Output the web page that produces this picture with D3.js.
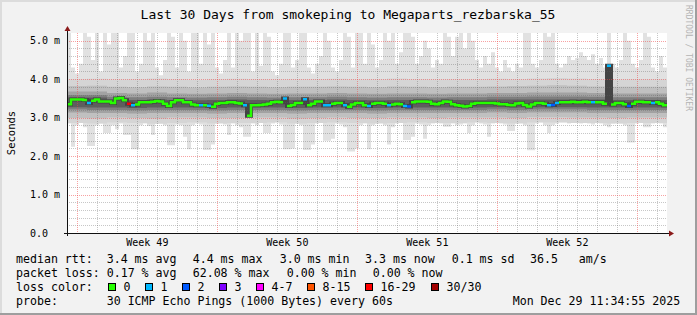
<!DOCTYPE html>
<html>
<head>
<meta charset="utf-8">
<script src="https://cdn.jsdelivr.net/npm/d3@7"></script>
<style>
  body { margin: 0; background: #f2f2f2; }
  text { font-family: "DejaVu Sans Mono", monospace; fill: #000; white-space: pre; }
</style>
</head>
<body>
<div id="chart"></div>
<script>
// ---- data ----
const t0 = new Date(Date.UTC(2025, 10, 29, 11, 34, 55));
const t1 = new Date(Date.UTC(2025, 11, 29, 11, 34, 55));
const binMinutes = 288; // 150 bins of 4.8 h

// median rtt per bin (ms)
const medianRtt = [
  3.35, 3.47, 3.47, 3.47, 3.46, 3.38, 3.44, 3.47, 3.42, 3.42,
  3.42, 3.38, 3.50, 3.51, 3.45, 3.36, 3.32, 3.34, 3.40, 3.40,
  3.40, 3.41, 3.43, 3.42, 3.36, 3.30, 3.40, 3.45, 3.45, 3.40,
  3.40, 3.34, 3.32, 3.32, 3.32, 3.31, 3.28, 3.36, 3.38, 3.38,
  3.40, 3.40, 3.38, 3.37, 3.32, 3.05, 3.32, 3.32, 3.33, 3.34,
  3.36, 3.40, 3.41, 3.40, 3.50, 3.30, 3.33, 3.38, 3.38, 3.48,
  3.32, 3.36, 3.42, 3.42, 3.32, 3.32, 3.36, 3.38, 3.38, 3.32,
  3.28, 3.34, 3.38, 3.38, 3.32, 3.30, 3.36, 3.38, 3.38, 3.36,
  3.32, 3.34, 3.36, 3.35, 3.30, 3.29, 3.40, 3.42, 3.42, 3.42,
  3.41, 3.36, 3.35, 3.38, 3.42, 3.41, 3.35, 3.32, 3.31, 3.29,
  3.30, 3.36, 3.38, 3.38, 3.38, 3.38, 3.38, 3.37, 3.35, 3.35,
  3.33, 3.32, 3.37, 3.38, 3.33, 3.29, 3.34, 3.38, 3.38, 3.36,
  3.32, 3.33, 3.38, 3.40, 3.40, 3.40, 3.41, 3.40, 3.40, 3.41,
  3.40, 3.40, 3.40, 3.40, 3.36, 4.35, 3.34, 3.38, 3.38, 3.35,
  3.30, 3.36, 3.41, 3.41, 3.40, 3.40, 3.38, 3.40, 3.36, 3.32
];

// lost pings (of 30) per bin
const lossCount = [
  0, 0, 0, 0, 0, 1, 0, 0, 0, 0,
  0, 0, 0, 0, 0, 18, 1, 0, 0, 0,
  0, 0, 0, 0, 0, 0, 0, 0, 0, 0,
  0, 0, 0, 1, 0, 1, 0, 0, 0, 0,
  0, 0, 0, 0, 1, 0, 0, 0, 0, 0,
  0, 0, 0, 0, 1, 0, 0, 0, 0, 1,
  0, 0, 0, 0, 1, 1, 0, 0, 0, 1,
  0, 0, 0, 0, 0, 1, 0, 0, 0, 0,
  1, 0, 0, 0, 1, 2, 0, 0, 0, 0,
  0, 0, 0, 0, 0, 0, 0, 0, 0, 0,
  0, 0, 0, 0, 0, 0, 0, 0, 0, 0,
  0, 0, 0, 0, 0, 0, 0, 0, 0, 0,
  1, 2, 1, 0, 0, 0, 0, 0, 0, 0,
  0, 1, 0, 0, 0, 1, 0, 0, 0, 0,
  2, 0, 0, 0, 0, 0, 1, 0, 0, 0
];

// slowest ping per bin (ms)
const smokeMax = [
  5.4, 4.3, 4.15, 4.4, 5.4, 5.1, 4.5, 5.4, 4.2, 5.4,
  4.9, 5.4, 5.4, 4.3, 4.6, 5.4, 5.2, 4.2, 4.4, 5.4,
  5.0, 5.4, 4.3, 4.1, 4.5, 5.4, 5.1, 4.3, 5.4, 5.0,
  4.2, 5.4, 5.2, 4.4, 5.4, 4.9, 5.4, 4.3, 4.15, 4.5,
  5.4, 4.3, 5.4, 5.0, 5.4, 5.4, 4.2, 5.4, 4.35, 5.4,
  5.1, 4.2, 4.1, 4.4, 5.4, 5.2, 4.3, 4.5, 5.4, 5.4,
  4.3, 4.15, 4.4, 4.6, 5.4, 5.0, 4.3, 4.2, 4.5, 5.4,
  5.1, 4.3, 5.4, 5.2, 4.4, 5.4, 4.9, 4.3, 4.5, 5.4,
  5.0, 5.4, 4.4, 4.7, 5.4, 5.4, 5.1, 4.4, 4.6, 5.0,
  4.8, 4.3, 4.5, 4.4, 5.4, 5.1, 4.6, 5.1, 5.4, 4.8,
  5.4, 5.0, 4.5, 4.3, 4.6, 4.4, 4.7, 4.3, 4.2, 4.5,
  4.3, 4.2, 4.4, 4.3, 5.4, 5.2, 4.4, 4.3, 4.5, 5.4,
  5.1, 5.4, 4.4, 4.3, 4.4, 4.6, 4.5, 4.55, 4.7, 4.6,
  4.5, 4.65, 4.4, 4.55, 4.3, 5.4, 4.4, 4.3, 4.5, 5.4,
  5.0, 4.4, 4.3, 4.5, 5.4, 5.1, 4.3, 4.2, 4.6, 4.3
];

// fastest ping per bin (ms)
const smokeMin = [
  2.85, 2.24, 2.80, 2.88, 2.75, 2.26, 2.26, 2.80, 2.85, 2.60,
  2.60, 2.80, 2.70, 2.85, 2.55, 2.55, 2.18, 2.18, 2.80, 2.85,
  2.78, 2.55, 2.85, 2.88, 2.80, 2.28, 2.28, 2.82, 2.80, 2.50,
  2.18, 2.80, 2.85, 2.82, 2.16, 2.16, 2.30, 2.85, 2.88, 2.82,
  2.55, 2.85, 2.80, 2.75, 2.50, 2.50, 2.85, 2.80, 2.88, 2.60,
  2.60, 2.85, 2.88, 2.82, 2.18, 2.18, 2.20, 2.85, 2.80, 2.16,
  2.16, 2.30, 2.85, 2.88, 2.40, 2.40, 2.45, 2.85, 2.82, 2.75,
  2.12, 2.12, 2.20, 2.80, 2.85, 2.18, 2.80, 2.85, 2.88, 2.80,
  2.30, 2.75, 2.85, 2.88, 2.42, 2.42, 2.50, 2.85, 2.82, 2.45,
  2.80, 2.85, 2.88, 2.85, 2.76, 2.76, 2.85, 2.80, 2.82, 2.85,
  2.60, 2.80, 2.88, 2.85, 2.82, 2.50, 2.85, 2.88, 2.85, 2.82,
  2.65, 2.65, 2.85, 2.88, 2.80, 2.15, 2.15, 2.85, 2.88, 2.80,
  2.60, 2.80, 2.85, 2.88, 2.88, 2.85, 2.88, 2.86, 2.85, 2.88,
  2.85, 2.82, 2.88, 2.85, 2.80, 2.75, 2.85, 2.88, 2.85, 2.80,
  2.35, 2.35, 2.85, 2.88, 2.75, 2.75, 2.85, 2.88, 2.85, 2.75
];

// inner smoke bands per day (ms), outer to inner
const band1Hi = [4.00, 4.01, 3.99, 4.00, 4.02, 4.00, 3.98, 4.00, 4.01, 4.00, 3.99, 4.00, 4.00, 4.01, 3.99, 4.00, 4.02, 4.00, 3.99, 4.00, 4.00, 4.01, 4.00, 4.02, 4.03, 4.02, 4.00, 3.99, 4.00, 4.00];
const band1Lo = [2.86, 2.85, 2.87, 2.86, 2.84, 2.86, 2.87, 2.85, 2.86, 2.86, 2.87, 2.85, 2.86, 2.87, 2.86, 2.85, 2.86, 2.87, 2.86, 2.86, 2.87, 2.86, 2.85, 2.87, 2.87, 2.86, 2.86, 2.85, 2.86, 2.86];
const band2Hi = [3.82, 3.83, 3.80, 3.79, 3.81, 3.80, 3.78, 3.80, 3.81, 3.80, 3.79, 3.80, 3.80, 3.81, 3.80, 3.79, 3.81, 3.80, 3.79, 3.80, 3.80, 3.81, 3.82, 3.83, 3.84, 3.83, 3.81, 3.80, 3.80, 3.80];
const band2Lo = [2.99, 2.98, 3.00, 2.99, 2.98, 3.00, 3.00, 2.99, 2.99, 3.00, 3.00, 2.98, 2.99, 3.00, 2.99, 2.99, 3.00, 3.00, 2.99, 3.00, 3.00, 3.00, 2.99, 3.01, 3.01, 3.00, 3.00, 2.99, 3.00, 3.00];
const band3Hi = [3.68, 3.68, 3.64, 3.63, 3.65, 3.63, 3.62, 3.63, 3.64, 3.63, 3.62, 3.63, 3.63, 3.64, 3.63, 3.62, 3.63, 3.63, 3.62, 3.63, 3.63, 3.64, 3.64, 3.65, 3.65, 3.65, 3.64, 3.63, 3.63, 3.63];
const band3Lo = [3.13, 3.12, 3.12, 3.11, 3.12, 3.12, 3.12, 3.11, 3.12, 3.12, 3.12, 3.11, 3.12, 3.12, 3.12, 3.11, 3.12, 3.12, 3.12, 3.12, 3.12, 3.13, 3.12, 3.13, 3.13, 3.13, 3.12, 3.12, 3.12, 3.12];
const band4Hi = [3.58, 3.58, 3.54, 3.53, 3.54, 3.53, 3.52, 3.53, 3.54, 3.53, 3.52, 3.53, 3.53, 3.54, 3.53, 3.52, 3.53, 3.53, 3.52, 3.53, 3.53, 3.54, 3.54, 3.55, 3.55, 3.55, 3.54, 3.53, 3.53, 3.53];
const band4Lo = [3.21, 3.20, 3.20, 3.19, 3.20, 3.20, 3.20, 3.19, 3.20, 3.20, 3.20, 3.19, 3.20, 3.20, 3.20, 3.19, 3.20, 3.20, 3.20, 3.20, 3.20, 3.21, 3.20, 3.21, 3.21, 3.21, 3.20, 3.20, 3.20, 3.20];
const band5Hi = [3.52, 3.52, 3.47, 3.46, 3.47, 3.46, 3.45, 3.46, 3.47, 3.46, 3.45, 3.46, 3.46, 3.47, 3.46, 3.45, 3.46, 3.46, 3.45, 3.46, 3.46, 3.47, 3.47, 3.47, 3.47, 3.47, 3.47, 3.46, 3.46, 3.46];
const band5Lo = [3.27, 3.26, 3.26, 3.25, 3.26, 3.26, 3.26, 3.25, 3.26, 3.26, 3.26, 3.25, 3.26, 3.26, 3.26, 3.25, 3.26, 3.26, 3.26, 3.26, 3.26, 3.27, 3.26, 3.27, 3.27, 3.27, 3.26, 3.26, 3.26, 3.26];

// axis labels
const yTicks = [0, 1, 2, 3, 4, 5];
const yTickLabels = ["0.0", "1.0 m", "2.0 m", "3.0 m", "4.0 m", "5.0 m"];
const weekLabels = ["Week 49", "Week 50", "Week 51", "Week 52"];

// legend texts
const rowLabels = ["median rtt:", "packet loss:", "loss color:", "probe:"];
const rttStats = ["3.4 ms avg", "4.4 ms max", "3.0 ms min", "3.3 ms now", "0.1 ms sd", "36.5   am/s"];
const lossStats = ["0.17 % avg", "62.08 % max", "0.00 % min", "0.00 % now"];
const lossNames = ["0", "1", "2", "3", "4-7", "8-15", "16-29", "30/30"];
const lossFrom = [0, 1, 2, 3, 4, 8, 16, 30];
const probeText = "30 ICMP Echo Pings (1000 Bytes) every 60s";
const stampText = "Mon Dec 29 11:34:55 2025";

// ---- styles / layout ----
const lossColors = ["#26ff00", "#00b8ff", "#0059ff", "#7e00ff", "#ff00ff", "#ff5500", "#ff0000", "#a10000"];
const bandColors = ["#e1e1e1", "#d5d5d5", "#c0c0c0", "#a2a2a2", "#7e7e7e", "#5e5e5e"];

const width = 697, height = 315;
const pL = 67, pR = 667, pT = 33, pB = 233;

const svg = d3.select("#chart").append("svg")
    .attr("width", width)
    .attr("height", height);

// frame
svg.append("rect").attr("width", width).attr("height", height).attr("fill", "#f2f2f2");
svg.append("path").attr("d", `M1,${height} V1 H${width}`).attr("stroke", "#dcdcdc").attr("stroke-width", 2).attr("fill", "none");
svg.append("path").attr("d", `M0,${height - 1} H${width - 1} V0`).attr("stroke", "#9e9e9e").attr("stroke-width", 2).attr("fill", "none");

svg.append("rect")
    .attr("x", pL).attr("y", pT)
    .attr("width", pR - pL).attr("height", pB - pT)
    .attr("fill", "#fff");

const x = d3.scaleUtc().domain([t0, t1]).range([pL, pR]);
const y = d3.scaleLinear().domain([0, 5.2]).range([pB, pT]);

const binTimes = d3.range(medianRtt.length + 1).map(i => d3.utcMinute.offset(t0, i * binMinutes));
const dayTimes = d3.range(band1Hi.length + 1).map(i => d3.utcDay.offset(t0, i));

svg.append("clipPath").attr("id", "plot")
  .append("rect").attr("x", pL).attr("y", pT).attr("width", pR - pL).attr("height", pB - pT);

const smoke = svg.append("g").attr("clip-path", "url(#plot)");

const area = d3.area()
    .curve(d3.curveStepAfter)
    .x(d => x(d.t))
    .y0(d => y(d.lo))
    .y1(d => y(d.hi));

function band(lo, hi, times) {
    const pts = lo.map((v, i) => ({ t: times[i], lo: v, hi: hi[i] }));
    pts.push({ t: times[times.length - 1], lo: lo[lo.length - 1], hi: hi[hi.length - 1] });
    return area(pts);
}

const bands = [
    [smokeMin, smokeMax, binTimes],
    [band1Lo, band1Hi, dayTimes],
    [band2Lo, band2Hi, dayTimes],
    [band3Lo, band3Hi, dayTimes],
    [band4Lo, band4Hi, dayTimes],
    [band5Lo, band5Hi, dayTimes]
];
bands.forEach((b, k) => {
    smoke.append("path").attr("d", band(b[0], b[1], b[2])).attr("fill", bandColors[k]);
});

// dark core of the smoke around the median
let halo = "";
medianRtt.forEach((v, i) => {
    const xs = x(binTimes[i]), xe = x(binTimes[i + 1]);
    halo += (i === 0 ? `M${xs},${y(v)}` : `V${y(v)}`) + `H${xe}`;
});
smoke.append("path").attr("d", halo)
    .attr("fill", "none").attr("stroke", "#444").attr("stroke-width", 4);

// grid
const grid = svg.append("g").attr("fill", "none").attr("stroke-dasharray", "1,1").attr("shape-rendering", "crispEdges");
const days = d3.utcDay.range(t0, t1);
const sundays = d3.utcSunday.range(t0, t1);
const minorY = d3.range(1, 26).filter(k => k % 5 !== 0).map(k => k / 5);

grid.selectAll(".hmin").data(minorY).enter().append("line")
    .attr("x1", pL).attr("x2", pR)
    .attr("y1", d => Math.round(y(d)) + 0.5).attr("y2", d => Math.round(y(d)) + 0.5)
    .attr("stroke", "rgba(95,95,95,0.35)");
grid.selectAll(".vmin").data(days.filter(d => d.getUTCDay() !== 0)).enter().append("line")
    .attr("x1", d => Math.round(x(d)) + 0.5).attr("x2", d => Math.round(x(d)) + 0.5)
    .attr("y1", pT).attr("y2", pB)
    .attr("stroke", "rgba(95,95,95,0.35)");
grid.selectAll(".hmaj").data(yTicks.slice(1)).enter().append("line")
    .attr("x1", pL).attr("x2", pR)
    .attr("y1", d => Math.round(y(d)) + 0.5).attr("y2", d => Math.round(y(d)) + 0.5)
    .attr("stroke", "rgba(240,70,70,0.5)");
grid.selectAll(".vmaj").data(sundays).enter().append("line")
    .attr("x1", d => Math.round(x(d)) + 0.5).attr("x2", d => Math.round(x(d)) + 0.5)
    .attr("y1", pT).attr("y2", pB)
    .attr("stroke", "rgba(240,70,70,0.5)");

// median line coloured by loss
const lossClass = n => d3.bisectRight(lossFrom, n) - 1;
const medPaths = lossColors.map(() => "");
medianRtt.forEach((v, i) => {
    const c = lossClass(lossCount[i]);
    const xs = x(binTimes[i]), xe = x(binTimes[i + 1]);
    const same = i > 0 && lossClass(lossCount[i - 1]) === c;
    medPaths[c] += (same ? `V${y(v)}` : `M${xs},${y(v)}`) + `H${xe}`;
});
svg.append("g").attr("clip-path", "url(#plot)")
  .selectAll("path").data(medPaths).enter().append("path")
    .attr("d", d => d || null)
    .attr("fill", "none")
    .attr("stroke", (d, i) => lossColors[i])
    .attr("stroke-width", 2.5);

// axes
svg.append("line").attr("x1", pL - 3).attr("x2", pR + 2).attr("y1", pB + 0.5).attr("y2", pB + 0.5)
    .attr("stroke", "#111");
svg.append("line").attr("x1", pL + 0.5).attr("x2", pL + 0.5).attr("y1", pB + 3).attr("y2", pT - 3)
    .attr("stroke", "#111");
svg.append("path").attr("d", `M${pR + 7},${pB + 0.5} L${pR + 2},${pB - 2.5} L${pR + 2},${pB + 3.5} Z`)
    .attr("fill", "#8b1a1a");
svg.append("path").attr("d", `M${pL + 0.5},${pT - 7} L${pL - 2.5},${pT - 2} L${pL + 3.5},${pT - 2} Z`)
    .attr("fill", "#8b1a1a");

svg.selectAll(".ylab").data(yTicks).enter().append("text")
    .attr("x", 30).attr("y", d => y(d) + 3.5)
    .style("font-size", "10px")
    .text((d, i) => yTickLabels[i]);

const weekMids = sundays.map(s => d3.utcHour.offset(s, 84)).filter(m => m < t1);
svg.selectAll(".xlab").data(weekMids).enter().append("text")
    .attr("x", d => x(d)).attr("y", 246)
    .attr("text-anchor", "middle")
    .style("font-size", "10px")
    .text((d, i) => weekLabels[i]);

svg.append("text")
    .attr("transform", `translate(15,${(pT + pB) / 2}) rotate(-90)`)
    .attr("text-anchor", "middle")
    .style("font-size", "10.5px")
    .text("Seconds");

svg.append("text")
    .attr("x", 348).attr("y", 18.5)
    .attr("text-anchor", "middle")
    .style("font-size", "13px")
    .text("Last 30 Days from smokeping to Megaparts_rezbarska_55");

svg.append("text")
    .attr("transform", "translate(685.5,5) rotate(90)")
    .style("font-size", "8px")
    .style("fill", "#b4b4b4")
    .text("RRDTOOL / TOBI OETIKER");

// legend
const rowY = [263, 277, 291, 305];
const legend = svg.append("g").style("font-size", "11.6px");
rowLabels.forEach((t, i) => legend.append("text").attr("x", 16).attr("y", rowY[i]).text(t));

const rttX = [106.7, 192.7, 279.7, 365, 451.7, 530];
rttStats.forEach((t, i) => legend.append("text").attr("x", rttX[i]).attr("y", rowY[0]).text(t));
const lossX = [106.7, 192.7, 286.7, 372.7];
lossStats.forEach((t, i) => legend.append("text").attr("x", lossX[i]).attr("y", rowY[1]).text(t));

const boxX = [108.5, 145.5, 182.5, 219.5, 256.5, 307.5, 365.5, 431.5];
lossNames.forEach((t, i) => {
    legend.append("rect")
        .attr("x", boxX[i]).attr("y", 283.5).attr("width", 7).attr("height", 7)
        .attr("fill", lossColors[i]).attr("stroke", "#000").attr("stroke-width", 1);
    legend.append("text").attr("x", boxX[i] + 15).attr("y", rowY[2]).text(t);
});

legend.append("text").attr("x", 106.7).attr("y", rowY[3]).text(probeText);
legend.append("text").attr("x", 512.7).attr("y", rowY[3]).text(stampText);
</script>
</body>
</html>
